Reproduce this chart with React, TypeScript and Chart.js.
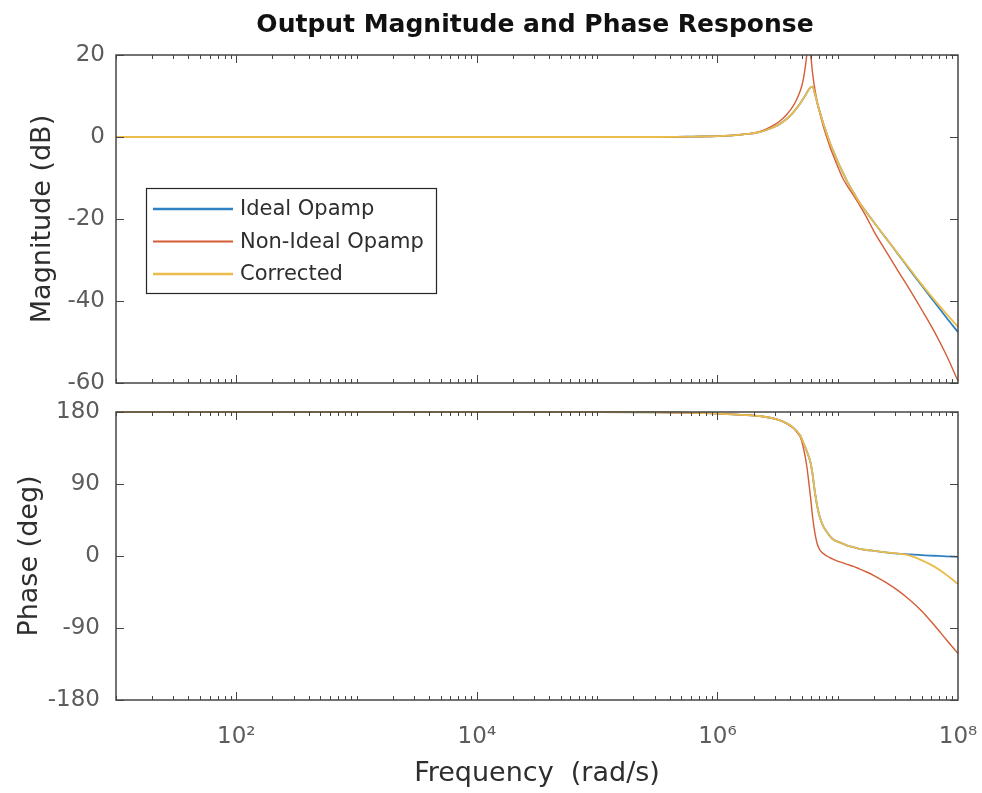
import { useEffect, useRef } from 'react';
import { Chart, registerables } from 'chart.js';

Chart.register(...registerables);

// Angular frequency samples (rad/s), shared by every trace
const frequency = [
  10, 100, 1e3, 1e4, 1e5, 3.16e5, 6.31e5, 1e6, 1.58e6, 2.24e6, 2.82e6, 3.31e6, 3.8e6,
  4.27e6, 4.57e6, 4.9e6, 5.13e6, 5.37e6, 5.56e6, 5.75e6, 5.96e6, 6.17e6, 6.46e6, 6.76e6,
  7.08e6, 7.59e6, 8.13e6, 8.71e6, 9.33e6, 1e7, 1.1e7, 1.2e7, 1.35e7, 1.51e7, 1.74e7, 2e7,
  2.51e7, 3.16e7, 3.98e7, 5.01e7, 6.31e7, 7.94e7, 1e8,
];

// Magnitude (dB)
const magnitudeIdeal = [
  0, 0, 0, 0, 0, 0, 0.1, 0.2, 0.6, 1.2, 2.2, 3.2, 4.5, 6.0, 7.1, 8.3, 9.2, 10.1, 10.9, 11.6,
  12.1, 12.3, 10.6, 8.3, 6.2, 3.3, 0.7, -1.8, -3.9, -6.0, -8.6, -10.9, -13.5, -15.9, -18.4,
  -20.8, -24.6, -28.5, -32.4, -36.3, -40.1, -43.9, -47.6,
];
const magnitudeNonIdeal = [
  0, 0, 0, 0, 0, 0, 0.1, 0.2, 0.6, 1.3, 2.6, 3.9, 5.6, 7.6, 9.2, 11.4, 13.5, 17.0, 20.5, 23.0,
  20.0, 15.8, 11.6, 8.5, 6.0, 2.6, -0.2, -2.8, -5.0, -7.2, -10.0, -11.9, -14.2, -16.5, -19.6,
  -23.0, -27.8, -32.6, -37.3, -42.2, -47.3, -53.0, -59.5,
];
const magnitudeCorrected = [
  0, 0, 0, 0, 0, 0, 0.1, 0.2, 0.6, 1.2, 2.2, 3.2, 4.5, 6.0, 7.1, 8.3, 9.2, 10.1, 10.9, 11.6,
  12.1, 12.3, 10.6, 8.3, 6.2, 3.3, 0.7, -1.8, -3.9, -6.0, -8.6, -10.9, -13.5, -15.9, -18.4,
  -20.8, -24.6, -28.4, -32.2, -36.0, -39.6, -43.0, -46.3,
];

// Phase (deg)
const phaseIdeal = [
  180, 180, 180, 180, 179.8, 179.5, 179, 178, 176.5, 175, 172.5, 169.5, 165.5, 160.5, 156,
  150, 143, 136, 130, 124, 116, 103, 80, 62, 49, 37, 30, 24, 20, 18, 15.5, 13, 11, 9, 7.5,
  6.5, 4.5, 3, 2, 1, 0.3, -0.4, -1,
];
const phaseNonIdeal = [
  180, 180, 180, 180, 179.8, 179.5, 179, 178, 176.5, 175, 172.5, 169.5, 165, 160, 155, 148,
  138, 124, 110, 92, 72, 50, 29, 15, 8, 3, 0, -2.5, -4.5, -6.5, -8.5, -10.5, -13, -16, -20,
  -24.5, -33, -43, -55, -69, -86, -104, -122,
];
const phaseCorrected = [
  180, 180, 180, 180, 179.8, 179.5, 179, 178, 176.5, 175, 172.5, 169.5, 165.5, 160.5, 156,
  150, 143, 136, 130, 124, 116, 103, 80, 62, 49, 37, 30, 24, 20, 18, 15.5, 13, 11, 9, 7.5,
  6.5, 4.5, 3, 0.5, -5.5, -13, -23, -35,
];

const seriesNames = ['Ideal Opamp', 'Non-Ideal Opamp', 'Corrected'];
const frequencyTicks = [1e2, 1e4, 1e6, 1e8];
const frequencyTickLabels = ['10²', '10⁴', '10⁶', '10⁸'];

const FONT = '"DejaVu Sans", "Liberation Sans", sans-serif';
const COLORS = ['#2f80c2', '#d45d36', '#ecbd4c'];
const WIDTHS = [1.8, 1.4, 1.8];
const AXIS_COLOR = '#454545';
const TICK_COLOR = '#5c5c5c';
const LABEL_COLOR = '#2e2e2e';

const toPoints = (ys: number[]) => frequency.map((f, i) => ({ x: f, y: ys[i] }));

const makeDatasets = (series: number[][], clipTop: number) =>
  series.map((ys, i) => ({
    label: seriesNames[i],
    data: toPoints(ys),
    borderColor: COLORS[i],
    backgroundColor: COLORS[i],
    borderWidth: WIDTHS[i],
    pointRadius: 0,
    fill: false,
    cubicInterpolationMode: 'monotone' as const,
    // later series sit on top of earlier ones
    order: series.length - i,
    clip: { left: 0, right: 1, top: clipTop, bottom: 0 },
  }));

// keep the plot box fixed: no extra room reserved for overhanging tick labels
const noOverhang = (s: any) => {
  s.paddingLeft = 0;
  s.paddingRight = 0;
  s.paddingTop = 0;
  s.paddingBottom = 0;
};

// Box outline with inward tick marks on all four sides
const framePlugin = {
  id: 'bodeFrame',
  afterDatasetsDraw(chart: any) {
    const { ctx, chartArea: a, scales } = chart;
    const xs = scales.x;
    const ys = scales.y;
    const MAJOR = 8;
    const MINOR = 4;
    ctx.save();
    ctx.strokeStyle = AXIS_COLOR;
    ctx.lineWidth = 1;
    ctx.beginPath();
    for (let k = 1; k < 8; k++) {
      for (let m = 1; m < 10; m++) {
        const v = m * Math.pow(10, k);
        const len = frequencyTicks.includes(v) ? MAJOR : MINOR;
        const px = Math.round(xs.getPixelForValue(v)) + 0.5;
        ctx.moveTo(px, a.top);
        ctx.lineTo(px, a.top + len);
        ctx.moveTo(px, a.bottom);
        ctx.lineTo(px, a.bottom - len);
      }
    }
    ys.ticks.forEach((t: any) => {
      const py = Math.round(ys.getPixelForValue(t.value)) + 0.5;
      ctx.moveTo(a.left, py);
      ctx.lineTo(a.left + MAJOR, py);
      ctx.moveTo(a.right, py);
      ctx.lineTo(a.right - MAJOR, py);
    });
    ctx.stroke();
    ctx.lineWidth = 1.5;
    ctx.strokeRect(a.left, a.top, a.right - a.left, a.bottom - a.top);
    ctx.restore();
  },
};

const titlePlugin = {
  id: 'bodeTitle',
  afterDraw(chart: any) {
    const { ctx, chartArea: a } = chart;
    ctx.save();
    ctx.fillStyle = '#111111';
    ctx.font = `bold 25px ${FONT}`;
    ctx.textAlign = 'center';
    ctx.textBaseline = 'alphabetic';
    ctx.fillText('Output Magnitude and Phase Response', (a.left + a.right) / 2 - 2, a.top - 23);
    ctx.restore();
  },
};

const legendPlugin = {
  id: 'bodeLegend',
  afterDraw(chart: any) {
    const { ctx, chartArea: a } = chart;
    const left = a.left + 30;
    const top = a.top + 133;
    const width = 290;
    const height = 105;
    ctx.save();
    ctx.fillStyle = '#ffffff';
    ctx.fillRect(left, top, width, height);
    ctx.strokeStyle = '#262626';
    ctx.lineWidth = 1.2;
    ctx.strokeRect(left + 0.5, top + 0.5, width, height);
    ctx.font = `21px ${FONT}`;
    ctx.textBaseline = 'middle';
    ctx.textAlign = 'left';
    chart.data.datasets.forEach((ds: any, i: number) => {
      const y = top + 21 + i * 32.5;
      ctx.strokeStyle = ds.borderColor;
      ctx.lineWidth = ds.borderWidth + 0.6;
      ctx.beginPath();
      ctx.moveTo(left + 7, y);
      ctx.lineTo(left + 87, y);
      ctx.stroke();
      ctx.fillStyle = LABEL_COLOR;
      ctx.fillText(ds.label, left + 94, y + 1);
    });
    ctx.restore();
  },
};

const tickFont = { family: FONT, size: 23 };
const labelFont = { family: FONT, size: 27 };

export default function App() {
  const magRef = useRef<HTMLCanvasElement>(null);
  const phaseRef = useRef<HTMLCanvasElement>(null);

  useEffect(() => {
    const common = {
      animation: false as const,
      responsive: false,
      events: [] as any[],
      plugins: { legend: { display: false }, tooltip: { enabled: false } },
    };

    const magChart = new Chart(magRef.current!, {
      type: 'line',
      data: {
        datasets: makeDatasets([magnitudeIdeal, magnitudeNonIdeal, magnitudeCorrected], 0) as any,
      },
      options: {
        ...common,
        layout: { padding: { left: 0, right: 24, top: 55, bottom: 27 } },
        scales: {
          x: { type: 'logarithmic', min: 10, max: 1e8, display: false },
          y: {
            type: 'linear',
            min: -60,
            max: 20,
            ticks: { stepSize: 20, color: TICK_COLOR, font: tickFont, padding: 11 },
            grid: { display: false, drawTicks: false },
            border: { display: false },
            title: {
              display: true,
              text: 'Magnitude (dB)',
              color: LABEL_COLOR,
              font: labelFont,
              padding: { top: 27, bottom: 0 },
            },
            afterFit: (s: any) => {
              s.width = 116;
              noOverhang(s);
            },
          },
        },
      } as any,
      plugins: [framePlugin, legendPlugin, titlePlugin],
    });

    const phaseChart = new Chart(phaseRef.current!, {
      type: 'line',
      data: {
        datasets: makeDatasets([phaseIdeal, phaseNonIdeal, phaseCorrected], 2) as any,
      },
      options: {
        ...common,
        layout: { padding: { left: 0, right: 24, top: 42, bottom: 0 } },
        scales: {
          x: {
            type: 'logarithmic',
            min: 10,
            max: 1e8,
            afterBuildTicks: (s: any) => {
              s.ticks = frequencyTicks.map((v) => ({ value: v }));
            },
            ticks: {
              callback: (_v: any, i: number) => frequencyTickLabels[i],
              color: TICK_COLOR,
              font: tickFont,
              padding: 23,
              maxRotation: 0,
              autoSkip: false,
            },
            grid: { display: false, drawTicks: false },
            border: { display: false },
            title: {
              display: true,
              text: 'Frequency  (rad/s)',
              color: LABEL_COLOR,
              font: labelFont,
              padding: { top: 0, bottom: 3 },
            },
            afterFit: (s: any) => {
              s.height = 93;
              noOverhang(s);
            },
          },
          y: {
            type: 'linear',
            min: -180,
            max: 180,
            ticks: { stepSize: 90, color: TICK_COLOR, font: tickFont, padding: 16 },
            grid: { display: false, drawTicks: false },
            border: { display: false },
            title: {
              display: true,
              text: 'Phase (deg)',
              color: LABEL_COLOR,
              font: labelFont,
              padding: { top: 14, bottom: 0 },
            },
            afterFit: (s: any) => {
              s.width = 116;
              noOverhang(s);
            },
          },
        },
      } as any,
      plugins: [framePlugin],
    });

    return () => {
      magChart.destroy();
      phaseChart.destroy();
    };
  }, []);

  return (
    <div
      style={{
        position: 'fixed',
        left: 0,
        top: 0,
        width: 982,
        height: 793,
        background: '#ffffff',
        overflow: 'hidden',
      }}
    >
      <canvas
        ref={magRef}
        width={982}
        height={410}
        style={{ position: 'absolute', left: 0, top: 0, width: 982, height: 410 }}
      />
      <canvas
        ref={phaseRef}
        width={982}
        height={423}
        style={{ position: 'absolute', left: 0, top: 370, width: 982, height: 423 }}
      />
    </div>
  );
}
